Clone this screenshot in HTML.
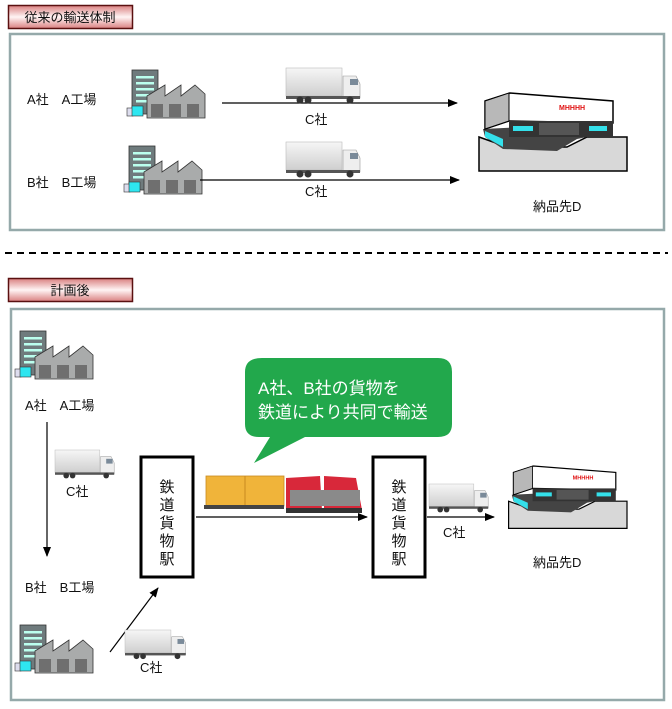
<!DOCTYPE html>
<html><head><meta charset="utf-8"><style>
html,body{margin:0;padding:0;background:#fff;}
svg text{font-family:"Liberation Sans","Noto Sans CJK JP",sans-serif;fill:#111;}
</style></head><body>
<svg width="672" height="704" viewBox="0 0 672 704" xmlns="http://www.w3.org/2000/svg">
<defs>
<linearGradient id="lab" x1="0" y1="0" x2="0" y2="1"><stop offset="0" stop-color="#d98080"/><stop offset="0.5" stop-color="#fff4f4"/><stop offset="1" stop-color="#d98080"/></linearGradient>
<linearGradient id="box" x1="0" y1="0" x2="0" y2="1"><stop offset="0" stop-color="#f6f6f6"/><stop offset="1" stop-color="#cfcfcf"/></linearGradient>
<marker id="ar" markerWidth="10" markerHeight="8" refX="9" refY="4" orient="auto" markerUnits="userSpaceOnUse"><path d="M0,0 L10,4 L0,8 Z" fill="#000"/></marker>
<g id="fac">
 <rect x="5" y="0" width="26" height="44" fill="#6f7b7d" stroke="#333" stroke-width="0.8"/>
 <rect x="9" y="6" width="18" height="2.5" fill="#bfe"/><rect x="9" y="12" width="18" height="2.5" fill="#bfe"/><rect x="9" y="18" width="18" height="2.5" fill="#bfe"/><rect x="9" y="24" width="18" height="2.5" fill="#bfe"/><rect x="9" y="30" width="18" height="2.5" fill="#bfe"/>
 <path d="M20,48 L20,26 L38,15 L38,26 L54,15 L54,26 L68,15 L78,24 L78,48 Z" fill="#a9abab" stroke="#333" stroke-width="0.8"/>
 <rect x="24" y="34" width="12" height="13" fill="#6f6f6f"/><rect x="42" y="34" width="12" height="13" fill="#6f6f6f"/><rect x="60" y="34" width="12" height="13" fill="#6f6f6f"/>
 <rect x="0" y="38" width="6" height="8" fill="#dde" stroke="#333" stroke-width="0.6"/><rect x="5" y="36" width="11" height="10" fill="#2ee6f0" stroke="#333" stroke-width="0.6"/>
</g>
<g id="trk">
 <rect x="0" y="0" width="56" height="28" fill="url(#box)" stroke="#bbb" stroke-width="0.6"/>
 <path d="M57,8 L70,8 L74,16 L74,30 L57,30 Z" fill="#eee" stroke="#999" stroke-width="0.6"/>
 <rect x="64" y="11" width="8" height="6" fill="#7a8a99"/>
 <rect x="0" y="28" width="74" height="3" fill="#555"/>
 <circle cx="14" cy="32" r="3.5" fill="#333"/><circle cx="22" cy="32" r="3.5" fill="#333"/><circle cx="64" cy="32" r="3.5" fill="#333"/>
</g>
<g id="sto">
 <path d="M2,44 L2,78 L150,78 L150,44 L110,44 L90,54 L30,54 Z" fill="#d8d8d8" stroke="#000" stroke-width="1.5"/>
 <path d="M6,36 L8,44 L26,56 L80,58 L100,46 L130,40 L130,30 Z" fill="#444"/>
 <path d="M8,38 L26,46 L26,54 L8,44 Z" fill="#34e0ea"/>
 <path d="M8,8 L33,0 L136,8 L136,30 L32,28 L8,36 Z" fill="#fff" stroke="#000" stroke-width="1.5"/>
 <path d="M8,8 L32,0 L32,28 L8,36 Z" fill="#b8b8b8" stroke="#000" stroke-width="1"/>
 <rect x="32" y="28" width="104" height="16" fill="#333"/>
 <rect x="36" y="33" width="20" height="5" fill="#34e0ea"/><rect x="112" y="33" width="18" height="5" fill="#34e0ea"/>
 <rect x="62" y="30" width="40" height="12" fill="#555"/>
 <text x="82" y="17" font-size="7" font-weight="bold" style="fill:#e01010">MHHHH</text>
</g>
</defs>

<rect x="8.5" y="5.5" width="124" height="23" fill="url(#lab)" stroke="#5a1010" stroke-width="1.5"/>
<text x="70" y="22" font-size="13" text-anchor="middle">従来の輸送体制</text>
<rect x="10" y="34" width="654" height="196" fill="#fff" stroke="#95a9aa" stroke-width="2.5"/>
<text x="27" y="104" font-size="13">A社　A工場</text>
<text x="27" y="187" font-size="13">B社　B工場</text>
<use href="#fac" transform="translate(127,70)"/>
<use href="#fac" transform="translate(124,146)"/>
<line x1="222" y1="103" x2="457" y2="103" stroke="#000" stroke-width="1.2" marker-end="url(#ar)"/>
<line x1="200" y1="180" x2="459" y2="180" stroke="#000" stroke-width="1.2" marker-end="url(#ar)"/>
<use href="#trk" transform="translate(286,68)"/>
<use href="#trk" transform="translate(286,142)"/>
<text x="305" y="124" font-size="13">C社</text>
<text x="305" y="196" font-size="13">C社</text>
<use href="#sto" transform="translate(477,93)"/>
<text x="533" y="211" font-size="13">納品先D</text>

<line x1="5" y1="253" x2="668" y2="253" stroke="#000" stroke-width="2" stroke-dasharray="7,5"/>

<rect x="8.5" y="278.5" width="124" height="23" fill="url(#lab)" stroke="#5a1010" stroke-width="1.5"/>
<text x="70" y="295" font-size="13" text-anchor="middle">計画後</text>
<rect x="11" y="309" width="653" height="391" fill="#fff" stroke="#95a9aa" stroke-width="2.5"/>
<use href="#fac" transform="translate(15,331)"/>
<text x="25" y="410" font-size="13">A社　A工場</text>
<line x1="47" y1="422" x2="47" y2="556" stroke="#000" stroke-width="1.2" marker-end="url(#ar)"/>
<use href="#trk" transform="translate(55,450) scale(0.8)"/>
<text x="66" y="496" font-size="13">C社</text>
<text x="25" y="592" font-size="13">B社　B工場</text>
<use href="#fac" transform="translate(15,625)"/>
<line x1="110" y1="652" x2="158" y2="588" stroke="#000" stroke-width="1.2" marker-end="url(#ar)"/>
<use href="#trk" transform="translate(125,630) scale(0.82)"/>
<text x="140" y="672" font-size="13">C社</text>

<rect x="141" y="457" width="52" height="120" fill="#fff" stroke="#000" stroke-width="3"/>
<text x="167" y="492" font-size="15" text-anchor="middle">鉄</text>
<text x="167" y="510" font-size="15" text-anchor="middle">道</text>
<text x="167" y="528" font-size="15" text-anchor="middle">貨</text>
<text x="167" y="546" font-size="15" text-anchor="middle">物</text>
<text x="167" y="564" font-size="15" text-anchor="middle">駅</text>
<rect x="373" y="457" width="52" height="120" fill="#fff" stroke="#000" stroke-width="3"/>
<text x="399" y="492" font-size="15" text-anchor="middle">鉄</text>
<text x="399" y="510" font-size="15" text-anchor="middle">道</text>
<text x="399" y="528" font-size="15" text-anchor="middle">貨</text>
<text x="399" y="546" font-size="15" text-anchor="middle">物</text>
<text x="399" y="564" font-size="15" text-anchor="middle">駅</text>

<rect x="206" y="476" width="78" height="30" fill="#f0b43a" stroke="#c98a20" stroke-width="0.8"/>
<line x1="245" y1="476" x2="245" y2="506" stroke="#c98a20"/>
<rect x="204" y="505" width="80" height="4" fill="#444"/>
<path d="M286,478 L320,476 L322,510 L286,510 Z" fill="#d8283a"/>
<path d="M324,476 L356,478 L362,510 L324,510 Z" fill="#d8283a"/>
<rect x="290" y="490" width="70" height="16" fill="#8a8a8a"/>
<rect x="286" y="508" width="76" height="5" fill="#333"/>
<line x1="196" y1="517" x2="367" y2="517" stroke="#000" stroke-width="1.2" marker-end="url(#ar)"/>

<use href="#trk" transform="translate(429,484) scale(0.8)"/>
<line x1="427" y1="517" x2="494" y2="517" stroke="#000" stroke-width="1.2" marker-end="url(#ar)"/>
<text x="443" y="537" font-size="13">C社</text>
<use href="#sto" transform="translate(507,466) scale(0.8)"/>
<text x="533" y="567" font-size="13">納品先D</text>

<path d="M262,358 L438,358 Q452,358 452,372 L452,424 Q452,437 438,437 L305,437 L254,463 L270,437 L259,437 Q245,437 245,424 L245,372 Q245,358 262,358 Z" fill="#22a84c"/>
<text x="258" y="394" font-size="17" style="fill:#fff">A社、B社の貨物を</text>
<text x="258" y="418" font-size="17" style="fill:#fff">鉄道により共同で輸送</text>
</svg>
</body></html>
